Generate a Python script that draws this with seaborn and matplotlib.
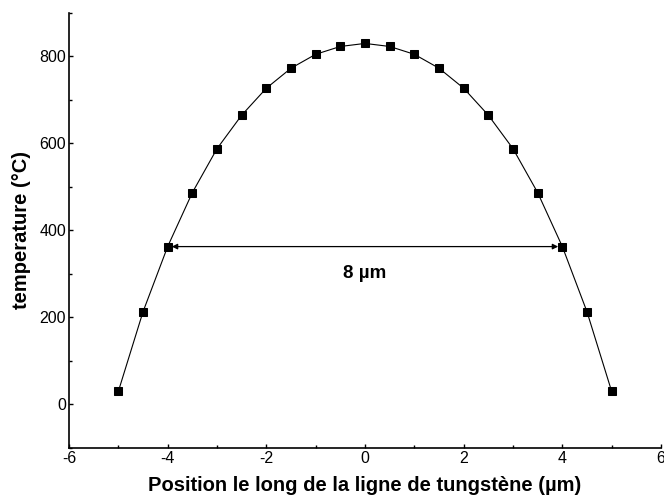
import matplotlib
matplotlib.use("Agg")
import matplotlib.pyplot as plt
import seaborn as sns
import pandas as pd

# Temperature profile along the tungsten line
position = [-5.0, -4.5, -4.0, -3.5, -3.0, -2.5, -2.0, -1.5, -1.0, -0.5, 0.0,
            0.5, 1.0, 1.5, 2.0, 2.5, 3.0, 3.5, 4.0, 4.5, 5.0]
temperature = [30, 213, 363, 487, 588, 665, 727, 773, 805, 823, 830,
               823, 805, 773, 727, 665, 588, 487, 363, 213, 30]
x_ticks = [-6, -4, -2, 0, 2, 4, 6]
y_ticks = [0, 200, 400, 600, 800]
width_label = "8 µm"
width_ends = [-4.0, 4.0]
width_level = 363

sns.set_style("ticks", {"axes.edgecolor": "black", "text.color": "black",
                        "axes.labelcolor": "black", "xtick.color": "black",
                        "ytick.color": "black"})
plt.rcParams["font.family"] = ["Liberation Sans", "DejaVu Sans"]
plt.rcParams["axes.unicode_minus"] = False

df = pd.DataFrame({"position": position, "temperature": temperature})

fig = plt.figure(figsize=(6.64, 4.99), dpi=100)
ax = fig.add_axes([0.1039, 0.1022, 0.8916, 0.8718])

sns.lineplot(data=df, x="position", y="temperature", ax=ax, color="black",
             linewidth=0.8, marker="s", markersize=6, markeredgecolor="black",
             markerfacecolor="black")

ax.annotate("", xy=(width_ends[0], width_level), xytext=(width_ends[1], width_level),
            arrowprops=dict(arrowstyle="<|-|>", color="black", lw=0.9,
                            mutation_scale=8, shrinkA=3, shrinkB=3))
ax.text(0, 302, width_label, ha="center", va="center", fontsize=13.5,
        fontweight="bold", color="black")

ax.set_xlim(-6, 6)
ax.set_ylim(-94, 900)
ax.set_xticks(x_ticks)
ax.set_yticks(y_ticks)
ax.set_xticks([-5, -3, -1, 1, 3, 5], minor=True)
ax.set_yticks([-100, 100, 300, 500, 700, 900], minor=True)
ax.tick_params(axis="both", which="major", direction="in", length=3, width=1,
               labelsize=11.5, pad=2, colors="black")
ax.tick_params(axis="both", which="minor", direction="in", length=2, width=1,
               colors="black")

for side in ["top", "right"]:
    ax.spines[side].set_visible(False)
for side in ["left", "bottom"]:
    ax.spines[side].set_linewidth(1.2)
    ax.spines[side].set_color("black")

ax.set_xlabel("Position le long de la ligne de tungstène (µm)", fontsize=14.5,
              fontweight="bold", labelpad=7, color="black")
ax.set_ylabel("temperature (°C)", fontsize=14.5, fontweight="bold", labelpad=6,
              color="black")

fig.savefig("out.png", dpi=100)
